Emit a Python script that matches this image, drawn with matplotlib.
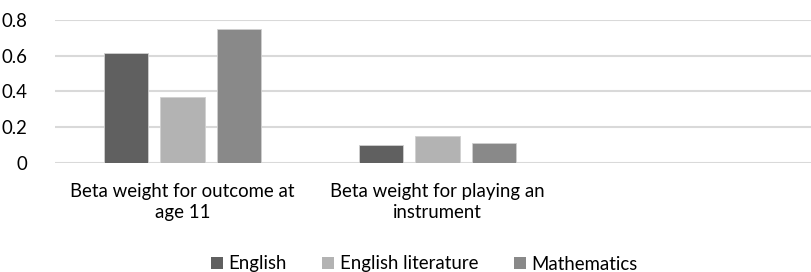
import matplotlib
matplotlib.use("Agg")
import matplotlib.pyplot as plt
from matplotlib.patches import Patch
import numpy as np

categories = ["Beta weight for outcome at\nage 11", "Beta weight for playing an\ninstrument", ""]
series_names = ["English", "English literature", "Mathematics"]
english = [0.613, 0.097, None]
english_lit = [0.367, 0.146, None]
mathematics = [0.749, 0.107, None]
yticks = [0, 0.2, 0.4, 0.6, 0.8]
ytick_labels = ["0", "0.2", "0.4", "0.6", "0.8"]

colors = ["#606060", "#b3b3b3", "#898989"]
FONT = "Lato"
FS = 13.4

W, H = 811, 272
fig = plt.figure(figsize=(W / 100, H / 100), dpi=100)
left, right = 55.2, 820.0
bottom, top = 162.5, 20.0
ax = fig.add_axes([left / W, 1 - bottom / H, (right - left) / W, (bottom - top) / H])

x = np.arange(len(categories))
bw = 0.1745
off = 0.2216
for k, (vals, c) in enumerate(zip([english, english_lit, mathematics], colors)):
    xs = [xi + (k - 1) * off for xi, v in zip(x, vals) if v is not None]
    vs = [v for v in vals if v is not None]
    ax.bar(xs, vs, width=bw, color=c, edgecolor="#d0d0d0", linewidth=0.6, zorder=3)

ax.set_xlim(-0.5, len(categories) - 0.5)
ax.set_ylim(0, 0.8)
ax.set_yticks(yticks)
ax.set_yticklabels(ytick_labels, fontsize=FS, family=FONT, color="#000000")
ax.set_xticks(x)
ax.set_xticklabels(categories, fontsize=FS, family=FONT, color="#000000", linespacing=1.3)
ax.tick_params(axis="both", length=0)
ax.tick_params(axis="y", pad=20)
ax.tick_params(axis="x", pad=14.5)
ax.yaxis.grid(True, color="#d9d9d9", linewidth=1.5, zorder=0)
ax.set_axisbelow(True)
for s in ax.spines.values():
    s.set_visible(False)

handles = [Patch(facecolor=c, edgecolor="none") for c in colors]
fig.legend(handles, series_names, loc="center", bbox_to_anchor=(424 / W, 1 - 264 / H),
           ncol=3, frameon=False, prop={"family": FONT, "size": FS},
           handlelength=0.65, handleheight=0.65, handletextpad=0.3, columnspacing=1.9,
           borderpad=0)

fig.savefig("out.png", dpi=100)
